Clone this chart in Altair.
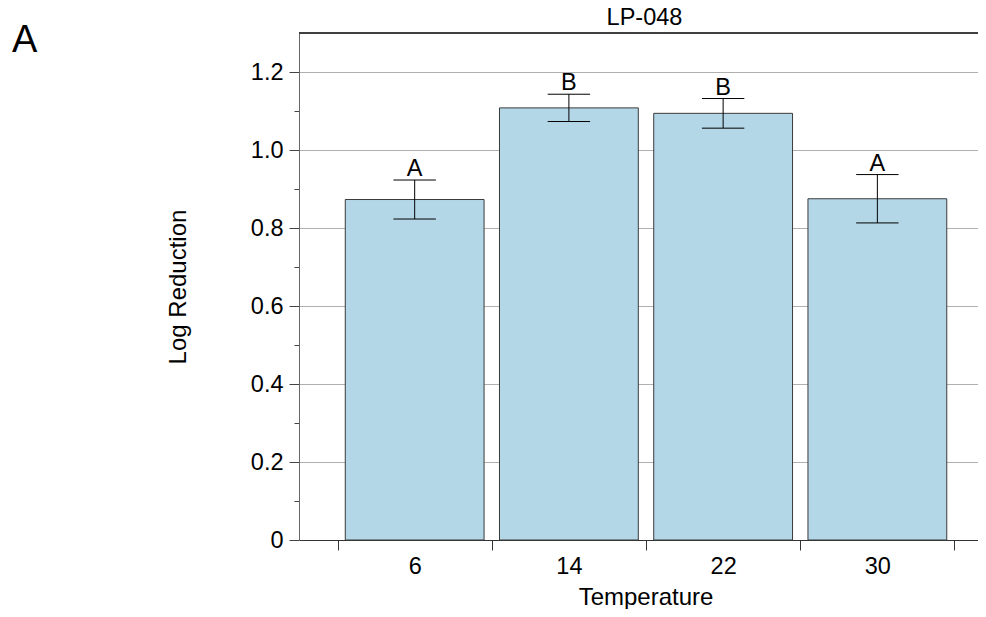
import altair as alt
import pandas as pd

# ---- data ----
temperatures = [6, 14, 22, 30]
log_reduction = [0.873, 1.108, 1.094, 0.875]
std_error = [0.050, 0.035, 0.038, 0.062]
letters = ["A", "B", "B", "A"]
x_tick_values = [2, 6, 10, 14, 18, 22, 26, 30, 34]
y_tick_values = [0, 0.1, 0.2, 0.3, 0.4, 0.5, 0.6, 0.7, 0.8, 0.9, 1.0, 1.1, 1.2]
panel_label = "A"
chart_title = "LP-048"

df = pd.DataFrame({
    "Temperature": temperatures,
    "LogReduction": log_reduction,
    "SE": std_error,
    "Letter": letters,
})

FONT = "Liberation Sans"
FS = 23.5
FS_TITLE = 24
W, H = 679, 507
X_MAX = 35.22
BAR_HALF = 3.6
CAP_HALF = 1.1

x_scale = alt.Scale(domain=[0, X_MAX], nice=False, zero=False)
y_scale = alt.Scale(domain=[0, 1.3], nice=False)

major_x = "datum.value % 8 == 2"
major_y = "round(datum.value * 10) % 2 == 0"

x_axis = alt.Axis(
    values=x_tick_values,
    labelExpr="datum.value % 8 == 6 ? datum.label : ''",
    tickOpacity={"condition": {"test": major_x, "value": 1}, "value": 0},
    grid=False,
    tickSize=10,
    tickColor="#333333",
    domainColor="#333333",
    labelFont=FONT, labelFontSize=FS, labelColor="black", labelPadding=4,
    titleFont=FONT, titleFontSize=FS_TITLE, titleFontWeight="normal", titleColor="black",
    titleX=346.5, titleY=64, titleBaseline="alphabetic", titleAlign="center",
)

y_axis = alt.Axis(
    values=y_tick_values,
    labelExpr=f"{major_y} ? (datum.value == 0 ? '0' : format(datum.value, '.1f')) : ''",
    tickSize={"condition": {"test": major_y, "value": 10}, "value": 5},
    grid=True,
    gridColor="#b0b0b0",
    gridOpacity={"condition": {"test": f"{major_y} && datum.value > 0", "value": 1}, "value": 0},
    tickColor="#444444",
    domainColor="#666666",
    labelFont=FONT, labelFontSize=FS, labelColor="black", labelPadding=6,
    titleFont=FONT, titleFontSize=FS_TITLE, titleFontWeight="normal", titleColor="black",
    titleX=-121, titleY=H / 2, titleAngle=270, titleAlign="center", titleBaseline="middle",
)

base = alt.Chart(df).transform_calculate(
    x0=f"datum.Temperature - {BAR_HALF}",
    x1=f"datum.Temperature + {BAR_HALF}",
    lo="datum.LogReduction - datum.SE",
    hi="datum.LogReduction + datum.SE",
    c0=f"datum.Temperature - {CAP_HALF}",
    c1=f"datum.Temperature + {CAP_HALF}",
)

bars = base.mark_bar(color="#b4d7e8", stroke="#3a3a3a", strokeWidth=1).encode(
    x=alt.X("x0:Q", scale=x_scale, axis=x_axis, title="Temperature"),
    x2="x1:Q",
    y=alt.Y("LogReduction:Q", scale=y_scale, axis=y_axis, title="Log Reduction"),
    y2=alt.datum(0),
)

err = base.mark_rule(color="black", strokeWidth=1).encode(
    x="Temperature:Q", y="lo:Q", y2="hi:Q"
)
cap_hi = base.mark_rule(color="black", strokeWidth=1).encode(
    x="c0:Q", x2="c1:Q", y="hi:Q"
)
cap_lo = base.mark_rule(color="black", strokeWidth=1).encode(
    x="c0:Q", x2="c1:Q", y="lo:Q"
)
labels = base.mark_text(font=FONT, fontSize=FS, baseline="alphabetic", dy=-4, color="black").encode(
    x="Temperature:Q", y="hi:Q", text="Letter:N"
)

top_line = alt.Chart(pd.DataFrame({"v": [1.3]})).mark_rule(color="black", strokeWidth=1.5).encode(
    y=alt.Y("v:Q")
)

panel = alt.Chart(pd.DataFrame({"t": [panel_label]})).mark_text(
    font=FONT, fontSize=38, align="left", baseline="alphabetic", color="black"
).encode(x=alt.value(-287), y=alt.value(19), text="t:N")

title_text = alt.Chart(pd.DataFrame({"t": [chart_title]})).mark_text(
    font=FONT, fontSize=FS, align="center", baseline="alphabetic", color="black"
).encode(x=alt.value(W / 2 + 6), y=alt.value(-8), text="t:N")

chart = alt.layer(bars, err, cap_hi, cap_lo, labels, top_line, panel, title_text).properties(
    width=W, height=H,
    autosize=alt.AutoSizeParams(type="none"),
    padding={"left": 291, "top": 25, "right": 0, "bottom": 69},
    background="white",
).configure_view(stroke=None)

chart.save("out.html", embed_options={"renderer": "svg", "actions": False})
